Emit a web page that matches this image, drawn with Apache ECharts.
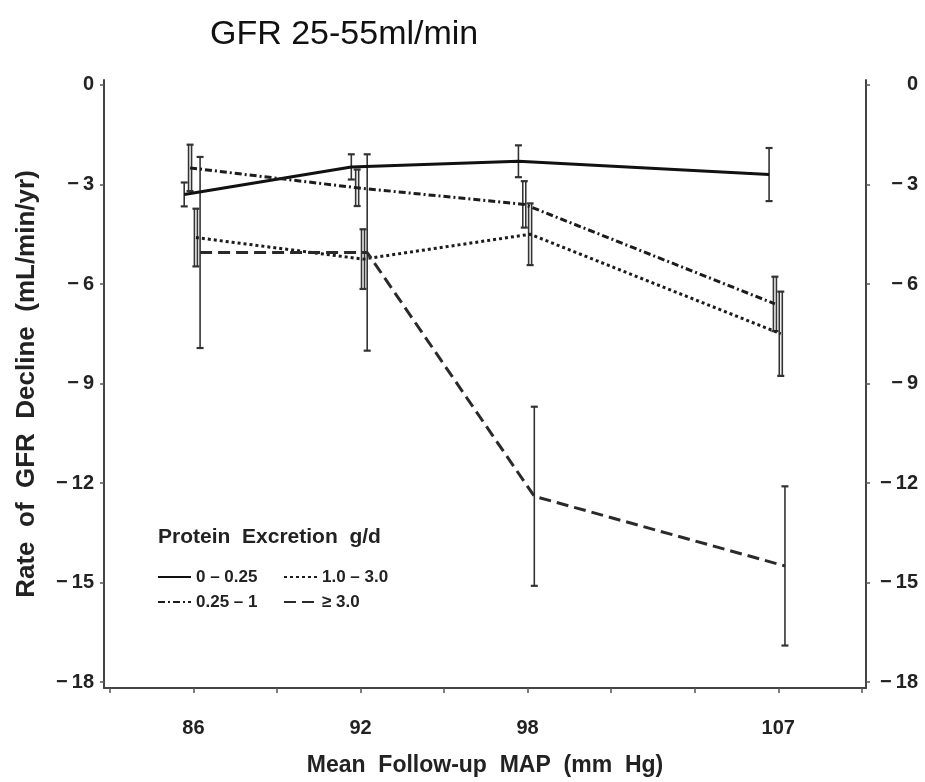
<!DOCTYPE html>
<html>
<head>
<meta charset="utf-8">
<script src="https://cdn.jsdelivr.net/npm/echarts@6/dist/echarts.min.js"></script>
<style>
  html, body { margin: 0; padding: 0; background: #fff; }
  #chart { width: 925px; height: 782px; }
</style>
</head>
<body>
<div id="chart"></div>
<script>
// Mean follow-up MAP groups and where each sits on the tick row of the x axis
const mapLabels = ['86', '92', '98', '107'];
const mapTickIndex = [1, 3, 5, 8];
const xTickIndex = [0, 1, 2, 3, 4, 5, 6, 7, 8, 9];
const yTicks = [0, -3, -6, -9, -12, -15, -18];

// Protein excretion groups (g/d)
const groupNames = ['0 \u2013 0.25', '0.25 \u2013 1', '1.0 \u2013 3.0', '\u2265 3.0'];

// Rate of GFR decline (mL/min/yr) and half-width of its error bar
const declineLow = [-3.3, -2.47, -2.3, -2.7];
const errLow = [0.36, 0.38, 0.48, 0.8];
const declineMidLow = [-2.5, -3.1, -3.6, -6.6];
const errMidLow = [0.7, 0.55, 0.7, 0.82];
const declineMidHigh = [-4.6, -5.25, -4.5, -7.5];
const errMidHigh = [0.87, 0.9, 0.93, 1.27];
const declineHigh = [-5.05, -5.05, -12.4, -14.5];
const errHigh = [2.88, 2.96, 2.7, 2.4];

const groups = [
  { name: groupNames[0], mean: declineLow, err: errLow, shift: -0.11, color: '#111', dash: 'solid', doubleBar: false },
  { name: groupNames[1], mean: declineMidLow, err: errMidLow, shift: -0.04, color: '#1c1c1c', dash: [7, 3, 2, 3], doubleBar: true },
  { name: groupNames[2], mean: declineMidHigh, err: errMidHigh, shift: 0.03, color: '#1c1c1c', dash: [3, 3], doubleBar: true },
  { name: groupNames[3], mean: declineHigh, err: errHigh, shift: 0.08, color: '#2a2a2a', dash: [12, 6], doubleBar: false }
];

const minus = v => (v < 0 ? '\u2212\u2009' + Math.abs(v) : String(v));
const axisFont = { fontFamily: 'Liberation Sans', fontWeight: 'bold', color: '#222' };

function errorBarRenderer(doubleBar) {
  return function (params, api) {
    const x = api.value(0), m = api.value(1), e = api.value(2);
    const top = api.coord([x, m + e]);
    const bot = api.coord([x, m - e]);
    const style = { stroke: '#333', lineWidth: 1.6 };
    const cap = 3.5;
    const children = [];
    if (doubleBar) {
      children.push({ type: 'line', shape: { x1: top[0] - 1.5, y1: top[1], x2: bot[0] - 1.5, y2: bot[1] }, style });
      children.push({ type: 'line', shape: { x1: top[0] + 1.5, y1: top[1], x2: bot[0] + 1.5, y2: bot[1] }, style });
    } else {
      children.push({ type: 'line', shape: { x1: top[0], y1: top[1], x2: bot[0], y2: bot[1] }, style });
    }
    children.push({ type: 'line', shape: { x1: top[0] - cap, y1: top[1], x2: top[0] + cap, y2: top[1] }, style: { stroke: '#333', lineWidth: 2.2 } });
    children.push({ type: 'line', shape: { x1: bot[0] - cap, y1: bot[1], x2: bot[0] + cap, y2: bot[1] }, style: { stroke: '#333', lineWidth: 2.2 } });
    return { type: 'group', children };
  };
}

const series = [];
groups.forEach(g => {
  series.push({
    type: 'custom',
    name: g.name + ' error',
    renderItem: errorBarRenderer(g.doubleBar),
    data: g.mean.map((m, i) => [mapTickIndex[i] + g.shift, m, g.err[i]]),
    encode: { x: 0, y: 1 },
    z: 2,
    silent: true
  });
});
groups.forEach(g => {
  series.push({
    type: 'line',
    name: g.name,
    data: g.mean.map((m, i) => [mapTickIndex[i] + g.shift, m]),
    symbol: 'none',
    lineStyle: { color: g.color, width: 3, type: g.dash },
    itemStyle: { color: g.color },
    z: 3,
    animation: false
  });
});

const legendText = { fontFamily: 'Liberation Sans', fontWeight: 'bold', fontSize: 17, color: '#222', lineHeight: 18 };
const legendCommon = {
  orient: 'vertical', top: 563,
  itemWidth: 33, itemHeight: 14, itemGap: 7,
  itemStyle: { color: 'rgba(0,0,0,0)', borderWidth: 0, opacity: 0 },
  textStyle: legendText, selectedMode: false
};

const option = {
  animation: false,
  backgroundColor: '#fff',
  title: [
    {
      text: 'GFR 25-55ml/min',
      left: 205, top: 13,
      textStyle: { fontFamily: 'Liberation Sans', fontWeight: 'normal', fontSize: 34, color: '#111' }
    },
    {
      text: 'Protein  Excretion  g/d',
      left: 153, top: 522,
      textStyle: { fontFamily: 'Liberation Sans', fontWeight: 'bold', fontSize: 21, color: '#222' }
    }
  ],
  legend: [
    Object.assign({ data: [groupNames[0], groupNames[1]], left: 152 }, legendCommon),
    Object.assign({ data: [groupNames[2], groupNames[3]], left: 278 }, legendCommon)
  ],
  grid: { left: 104, right: 59, top: 80, bottom: 94 },
  xAxis: {
    type: 'value',
    min: -0.07, max: 9.05,
    name: 'Mean  Follow-up  MAP  (mm  Hg)',
    nameLocation: 'middle', nameGap: 66,
    nameTextStyle: Object.assign({ fontSize: 23 }, axisFont),
    axisLine: { show: true, onZero: false, lineStyle: { color: '#444', width: 2 } },
    axisTick: { show: true, length: 5, customValues: xTickIndex, lineStyle: { color: '#555', width: 1.5 } },
    axisLabel: {
      customValues: mapTickIndex,
      formatter: v => mapLabels[mapTickIndex.indexOf(Math.round(v))] || '',
      margin: 30, fontSize: 20, ...axisFont
    },
    splitLine: { show: false }
  },
  yAxis: [
    {
      type: 'value', position: 'left',
      min: -18.18, max: 0.15,
      name: 'Rate  of  GFR  Decline  (mL/min/yr)',
      nameLocation: 'middle', nameGap: 64, nameRotate: 90,
      nameTextStyle: Object.assign({ fontSize: 26 }, axisFont),
      axisLine: { show: true, onZero: false, lineStyle: { color: '#444', width: 2 } },
      axisTick: { show: true, length: 4, customValues: yTicks, lineStyle: { color: '#555', width: 1.5 } },
      axisLabel: { customValues: yTicks, formatter: minus, margin: 10, fontSize: 20, ...axisFont },
      splitLine: { show: false }
    },
    {
      type: 'value', position: 'right',
      min: -18.18, max: 0.15,
      axisLine: { show: true, onZero: false, lineStyle: { color: '#444', width: 2 } },
      axisTick: { show: true, length: 4, customValues: yTicks, lineStyle: { color: '#555', width: 1.5 } },
      axisLabel: { customValues: yTicks, formatter: minus, margin: 52, align: 'right', fontSize: 20, ...axisFont },
      splitLine: { show: false }
    }
  ],
  series
};

const chart = echarts.init(document.getElementById('chart'), null, { renderer: 'canvas' });
chart.setOption(option);
</script>
</body>
</html>
